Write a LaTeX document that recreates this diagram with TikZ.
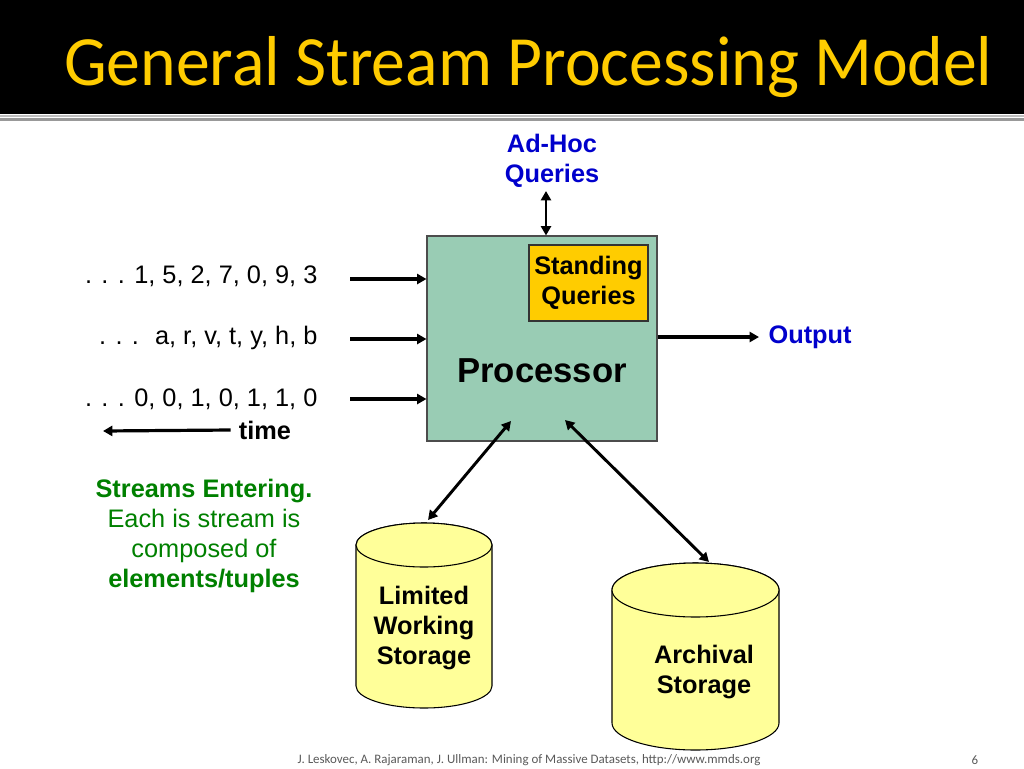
\documentclass[tikz,border=0pt]{standalone}
\usepackage{fontspec}
\setmainfont{Liberation Sans}
\newfontfamily\titlefont{Carlito}
\usetikzlibrary{arrows.meta}
\definecolor{procgreen}{RGB}{153,204,180}
\definecolor{sqgold}{RGB}{255,204,0}
\definecolor{diskyellow}{RGB}{255,255,153}
\definecolor{qblue}{RGB}{0,0,204}
\definecolor{sgreen}{RGB}{0,128,0}
\begin{document}
\begin{tikzpicture}[x=0.75pt,y=-0.75pt,
  txt/.style={font=\fontsize{19}{22.5}\selectfont, inner sep=1pt},
  btxt/.style={font=\fontsize{19}{22.5}\selectfont\bfseries, inner sep=1pt},
  flow/.style={line width=2.4pt, -{Triangle[length=7pt,width=7.5pt]}},
  both/.style={line width=2.2pt, {Triangle[length=7pt,width=7.5pt]}-{Triangle[length=7pt,width=7.5pt]}},
  disk/.style={draw=black, line width=0.8pt, fill=diskyellow}]
\useasboundingbox (0,0) rectangle (1024,768);
% title bar
\fill[black] (0,0) rectangle (1024,114);
\fill[black!25] (0,115) rectangle (1024,117);
\fill[black!40] (0,118) rectangle (1024,121);
\node[anchor=base west, text=sqgold, inner sep=0pt, font=\titlefont\fontsize{53}{60}\selectfont] (title) at (64,85) {\scalebox{0.958}[1]{General Stream Processing Model}};
% processor
\node[draw=black!70, line width=0.8pt, fill=procgreen, minimum width=172.5pt, minimum height=153.75pt, inner sep=0pt] (proc) at (542,338.5) {};
\node[font=\fontsize{26}{30}\selectfont\bfseries] (plabel) at (542,371) {Processor};
\node[btxt, draw=black!80, line width=0.8pt, fill=sqgold, minimum width=89.25pt, minimum height=57pt, align=center] (sq) at (588.5,283) {Standing\\Queries};
% ad-hoc queries
\node[btxt, text=qblue, align=center] (adhoc) at (552,161) {Ad-Hoc\\Queries};
\coordinate (aq) at (546,191);
\draw[both] (aq) -- (aq |- proc.north);
% input streams
\node[txt, anchor=east] (s1) at (319,276) {. . . 1, 5, 2, 7, 0, 9, 3};
\node[txt, anchor=east] (s2) at (319,338) {. . .\hspace{12pt}a, r, v, t, y, h, b};
\node[txt, anchor=east] (s3) at (319,399) {. . . 0, 0, 1, 0, 1, 1, 0};
\coordinate (in1) at (350,279);
\coordinate (in2) at (350,339);
\coordinate (in3) at (350,399);
\draw[flow] (in1) -- (in1 -| proc.west);
\draw[flow] (in2) -- (in2 -| proc.west);
\draw[flow] (in3) -- (in3 -| proc.west);
\node[btxt] (time) at (265,430) {time};
\coordinate (past) at (103,431);
\draw[flow] ([xshift=-5pt]time.west) -- (past);
% output
\node[btxt, text=qblue, anchor=west] (out) at (767,337) {Output};
\draw[flow] (proc.east |- out) -- ([xshift=-6pt]out.west);
% note
\node[txt, text=sgreen, align=center] (note) at (204,536) {\textbf{Streams Entering.}\\Each is stream is\\composed of\\\textbf{elements/tuples}};
% storage
\draw[disk] (356,545) -- (356,686) arc[start angle=180, end angle=0, x radius=68, y radius=22] -- (492,545) arc[start angle=0, end angle=-180, x radius=68, y radius=22] -- cycle;
\draw[disk] (424,545) ellipse[x radius=68, y radius=22];
\node[btxt, align=center] (lws) at (424,628) {Limited\\Working\\Storage};
\draw[disk] (612,590) -- (612,723) arc[start angle=180, end angle=0, x radius=83.5, y radius=27] -- (779,590) arc[start angle=0, end angle=-180, x radius=83.5, y radius=27] -- cycle;
\draw[disk] (695.5,590) ellipse[x radius=83.5, y radius=27];
\node[btxt, align=center] (arch) at (704,672) {Archival\\Storage};
\coordinate (pl) at (511,421);
\coordinate (lt) at (428,520);
\coordinate (pr) at (565,420);
\coordinate (at) at (709,562);
\draw[both] (pl) -- (lt);
\draw[both] (pr) -- (at);
% footer
\node[font=\titlefont\fontsize{9.7}{11}\selectfont, text=black!65] (foot) at (529,760) {J. Leskovec, A. Rajaraman, J. Ullman: Mining of Massive Datasets, http://www.mmds.org};
\node[font=\titlefont\fontsize{9.7}{11}\selectfont, text=black!65] (page) at (975,760) {6};
\end{tikzpicture}
\end{document}
